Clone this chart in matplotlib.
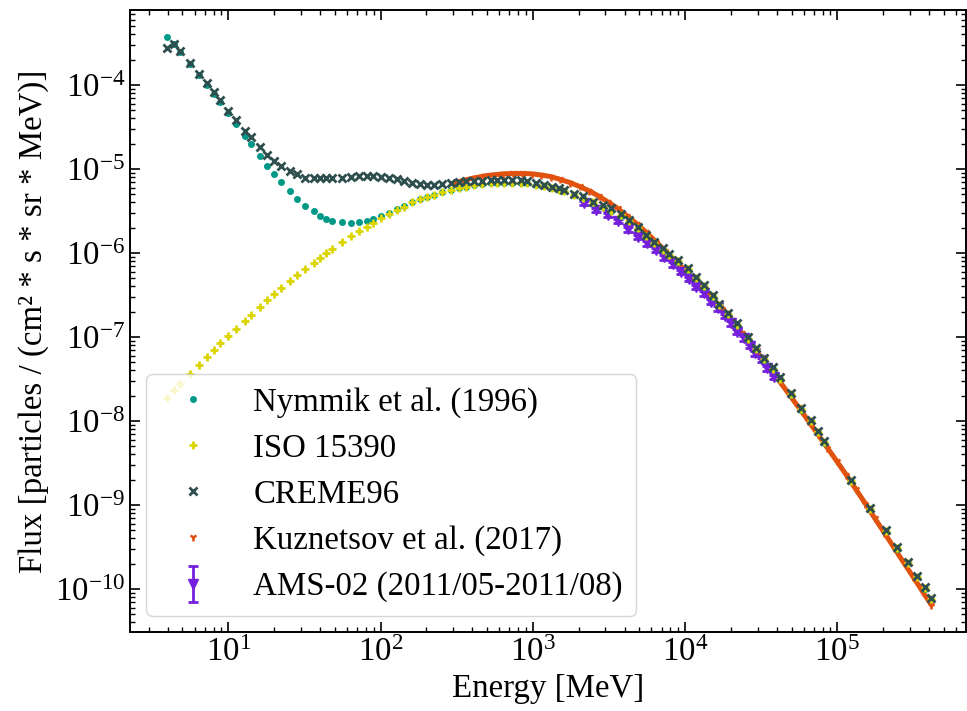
import matplotlib

matplotlib.use("Agg")
import matplotlib.pyplot as plt
from matplotlib.legend_handler import HandlerErrorbar

plt.rcParams["font.family"] = ["Liberation Serif", "DejaVu Serif"]
plt.rcParams["mathtext.fontset"] = "stix"
plt.rcParams["font.size"] = 23.7

# shared energy grid of the model spectra (MeV)
energy_grid = [
    3.95, 4.37, 4.79, 5.62, 6.38, 7.24, 8.09, 8.85, 10.0, 11.3,
    12.8, 14.1, 16.1, 18.0, 20.1, 22.2, 25.3, 28.4, 32.1, 36.3,
    40.3, 44.1, 48.2, 56.2, 64.2, 72.5, 80.9, 89.0, 100, 113,
    129, 142, 162, 182, 203, 224, 255, 289, 328, 362,
    411, 466, 529, 580, 647, 734, 834, 922, 1047, 1187,
    1346, 1480, 1606, 1870, 2123, 2472, 2873, 3258, 3792, 4303,
    4886, 5540, 6286, 7130, 7890, 8950, 10420, 11810, 13400, 15200,
    16800, 19000, 22000, 25800, 29300, 33200, 37700, 41800, 49800, 57900,
    66700, 74600, 81700, 123600, 164800, 208000, 248000, 289000, 331000, 375000,
    415000,
]

nymmik_flux = [
    3.76e-4, 3.1e-4, 2.5e-4, 1.78e-4, 1.31e-4, 1.0e-4, 7.8e-5, 6.3e-5, 4.6e-5, 3.43e-5,
    2.49e-5, 1.99e-5, 1.44e-5, 1.10e-5, 8.7e-6, 7.07e-6, 5.42e-6, 4.39e-6, 3.66e-6, 3.13e-6,
    2.78e-6, 2.54e-6, 2.43e-6, 2.32e-6, 2.28e-6, 2.34e-6, 2.43e-6, 2.56e-6, 2.76e-6, 3.02e-6,
    3.31e-6, 3.6e-6, 4.02e-6, 4.38e-6, 4.67e-6, 4.97e-6, 5.3e-6, 5.62e-6, 5.9e-6, 6.15e-6,
    6.42e-6, 6.6e-6, 6.74e-6, 6.83e-6, 6.88e-6, 6.88e-6, 6.83e-6, 6.72e-6, 6.48e-6, 6.22e-6,
    5.93e-6, 5.68e-6, 5.43e-6, 4.93e-6, 4.53e-6, 3.98e-6, 3.53e-6, 3.18e-6, 2.78e-6, 2.38e-6,
    1.98e-6, 1.59e-6, 1.31e-6, 1.09e-6, 9.4e-7, 7.9e-7, 6.35e-7, 5.0e-7, 3.97e-7, 3.03e-7,
    2.4e-7, 1.88e-7, 1.39e-7, 9.5e-8, 7.25e-8, 5.4e-8, 4.17e-8, 3.18e-8, 2.06e-8, 1.37e-8,
    9.9e-9, 7.45e-9, 5.55e-9, 1.93e-9, 8.9e-10, 4.9e-10, 3.02e-10, 2.02e-10, 1.38e-10, 1.01e-10,
    7.6e-11,
]

iso_flux = [
    1.86e-8, 2.34e-8, 2.73e-8, 3.63e-8, 4.64e-8, 5.73e-8, 7.0e-8, 8.4e-8, 1.04e-7, 1.26e-7,
    1.56e-7, 1.84e-7, 2.30e-7, 2.75e-7, 3.25e-7, 3.8e-7, 4.64e-7, 5.47e-7, 6.45e-7, 7.54e-7,
    8.8e-7, 1.0e-6, 1.13e-6, 1.34e-6, 1.59e-6, 1.84e-6, 2.06e-6, 2.30e-6, 2.59e-6, 2.89e-6,
    3.25e-6, 3.56e-6, 4.0e-6, 4.36e-6, 4.65e-6, 4.95e-6, 5.3e-6, 5.62e-6, 5.89e-6, 6.17e-6,
    6.45e-6, 6.62e-6, 6.76e-6, 6.85e-6, 6.9e-6, 6.9e-6, 6.85e-6, 6.75e-6, 6.5e-6, 6.25e-6,
    5.95e-6, 5.7e-6, 5.45e-6, 4.95e-6, 4.55e-6, 4.0e-6, 3.55e-6, 3.2e-6, 2.8e-6, 2.4e-6,
    2.0e-6, 1.6e-6, 1.32e-6, 1.1e-6, 9.5e-7, 7.95e-7, 6.4e-7, 5.05e-7, 4.0e-7, 3.05e-7,
    2.42e-7, 1.9e-7, 1.4e-7, 9.6e-8, 7.3e-8, 5.45e-8, 4.2e-8, 3.2e-8, 2.08e-8, 1.38e-8,
    1.0e-8, 7.5e-9, 5.6e-9, 1.95e-9, 9.0e-10, 4.95e-10, 3.05e-10, 2.04e-10, 1.39e-10, 1.02e-10,
    7.7e-11,
]

creme_flux = [
    2.73e-4, 3.08e-4, 2.56e-4, 1.84e-4, 1.35e-4, 1.05e-4, 8.3e-5, 6.6e-5, 4.9e-5, 3.8e-5,
    2.86e-5, 2.43e-5, 1.85e-5, 1.47e-5, 1.25e-5, 1.10e-5, 9.5e-6, 8.65e-6, 7.9e-6, 7.75e-6,
    7.75e-6, 7.75e-6, 7.8e-6, 7.9e-6, 8.1e-6, 8.25e-6, 8.3e-6, 8.3e-6, 8.1e-6, 7.8e-6,
    7.5e-6, 7.2e-6, 6.9e-6, 6.6e-6, 6.45e-6, 6.45e-6, 6.6e-6, 6.8e-6, 7.0e-6, 7.1e-6,
    7.15e-6, 7.25e-6, 7.3e-6, 7.3e-6, 7.4e-6, 7.4e-6, 7.3e-6, 7.1e-6, 6.75e-6, 6.45e-6,
    6.15e-6, 5.9e-6, 5.6e-6, 5.1e-6, 4.75e-6, 4.1e-6, 3.7e-6, 3.4e-6, 2.95e-6, 2.47e-6,
    2.06e-6, 1.64e-6, 1.36e-6, 1.14e-6, 9.8e-7, 8.2e-7, 6.6e-7, 5.2e-7, 4.15e-7, 3.15e-7,
    2.5e-7, 1.95e-7, 1.45e-7, 9.9e-8, 7.5e-8, 5.6e-8, 4.35e-8, 3.3e-8, 2.15e-8, 1.42e-8,
    1.03e-8, 7.7e-9, 5.8e-9, 2.0e-9, 9.3e-10, 5.1e-10, 3.15e-10, 2.1e-10, 1.43e-10, 1.05e-10,
    7.9e-11,
]

kuz_energy = [
    311, 360, 415, 480, 554, 640, 739, 854, 986, 1139,
    1315, 1519, 1755, 2027, 2341, 2704, 3123, 3607, 4166, 4812,
    5558, 6419, 7414, 8563, 9890, 11420, 13190, 15240, 17600, 20330,
    23480, 27120, 31320, 36180, 41790, 48260, 55740, 64380, 74360, 85880,
    99190, 114600, 132300, 152800, 176500, 203900, 235500, 272000, 314100, 362800,
    415000,
]
kuz_flux = [
    6.90e-6, 7.41e-6, 7.85e-6, 8.26e-6, 8.53e-6, 8.75e-6, 8.85e-6, 8.85e-6, 8.75e-6, 8.47e-6,
    8.11e-6, 7.50e-6, 6.89e-6, 6.19e-6, 5.50e-6, 4.76e-6, 4.04e-6, 3.40e-6, 2.76e-6, 2.23e-6,
    1.76e-6, 1.37e-6, 1.06e-6, 8.17e-7, 6.31e-7, 4.84e-7, 3.73e-7, 2.87e-7, 2.16e-7, 1.58e-7,
    1.13e-7, 8.13e-8, 5.81e-8, 4.17e-8, 2.97e-8, 2.07e-8, 1.45e-8, 1.01e-8, 7.00e-9, 4.82e-9,
    3.32e-9, 2.28e-9, 1.54e-9, 1.04e-9, 6.92e-10, 4.66e-10, 3.11e-10, 2.08e-10, 1.40e-10, 9.35e-11,
    6.46e-11,
]

ams_energy = [
    2178, 2595, 3097, 3630, 4197, 4886, 5623, 6442, 7311, 8300,
    9420, 10590, 11810, 13250, 14830, 16440, 18200, 19950, 21980, 24300,
    26500, 28900, 32000, 34600, 38300,
]
ams_flux = [
    3.91e-6, 3.25e-6, 2.83e-6, 2.40e-6, 1.91e-6, 1.56e-6, 1.30e-6, 1.09e-6, 8.87e-7, 7.3e-7,
    5.94e-7, 4.9e-7, 3.97e-7, 3.31e-7, 2.64e-7, 2.19e-7, 1.78e-7, 1.45e-7, 1.16e-7, 9.66e-8,
    7.82e-8, 6.4e-8, 5.32e-8, 4.24e-8, 3.37e-8,
]
ams_err = [
    2.3e-7, 1.9e-7, 1.7e-7, 1.4e-7, 1.1e-7, 9.4e-8, 7.8e-8, 6.5e-8, 5.3e-8, 4.4e-8,
    3.6e-8, 2.9e-8, 2.4e-8, 2.0e-8, 1.6e-8, 1.3e-8, 1.1e-8, 8.7e-9, 7.0e-9, 5.8e-9,
    4.7e-9, 3.8e-9, 3.2e-9, 2.5e-9, 2.0e-9,
]

C_TEAL = "#009988"
C_YELLOW = "#DDD500"
C_SLATE = "#2F4F4F"
C_ORANGE = "#E0520E"
C_PURPLE = "#7420DC"

fig = plt.figure(figsize=(9.67, 7.11), dpi=100)
ax = fig.add_axes([0.1344, 0.111, 0.8646, 0.875])

# Kuznetsov: dichtes Band, Marker darüber für die Legende
ax.plot(kuz_energy, kuz_flux, color=C_ORANGE, lw=3.6, zorder=1)
h_kuz, = ax.plot(kuz_energy, kuz_flux, ls="none", marker="1", ms=6, mew=1.8,
                 color=C_ORANGE, zorder=1.5, label="Kuznetsov et al. (2017)")
h_ams = ax.errorbar(ams_energy, ams_flux, yerr=ams_err, fmt="v", ms=6.5, color=C_PURPLE,
                    ecolor=C_PURPLE, elinewidth=2.0, capsize=3.5, capthick=2.0, zorder=2,
                    label="AMS-02 (2011/05-2011/08)")
h_nym, = ax.plot(energy_grid, nymmik_flux, ls="none", marker="o", ms=4, color=C_TEAL,
                 zorder=3, label="Nymmik et al. (1996)")
h_iso, = ax.plot(energy_grid, iso_flux, ls="none", marker="+", ms=6, mew=2.0, color=C_YELLOW,
                 zorder=4, label="ISO 15390")
h_cre, = ax.plot(energy_grid, creme_flux, ls="none", marker="x", ms=6, mew=2.0, color=C_SLATE,
                 zorder=5, label="CREME96")

ax.set_xscale("log")
ax.set_yscale("log")
ax.set_xlim(2.26, 7.0e5)
ax.set_ylim(10 ** -10.512, 10 ** -3.107)
ax.set_xlabel("Energy [MeV]")
ax.set_ylabel("Flux [particles / (cm² * s * sr * MeV)]")

ax.tick_params(which="both", direction="in", top=True, right=True)
ax.tick_params(which="major", length=7, width=1.2)
ax.tick_params(which="minor", length=3.5, width=1.0)
for sp in ax.spines.values():
    sp.set_linewidth(1.4)

ax.legend(handles=[h_nym, h_iso, h_cre, h_kuz, h_ams], loc="lower left",
          handletextpad=0.85, labelspacing=0.47,
          handler_map={type(h_ams): HandlerErrorbar(yerr_size=0.55)})

fig.savefig("out.png", dpi=100, facecolor="white")
